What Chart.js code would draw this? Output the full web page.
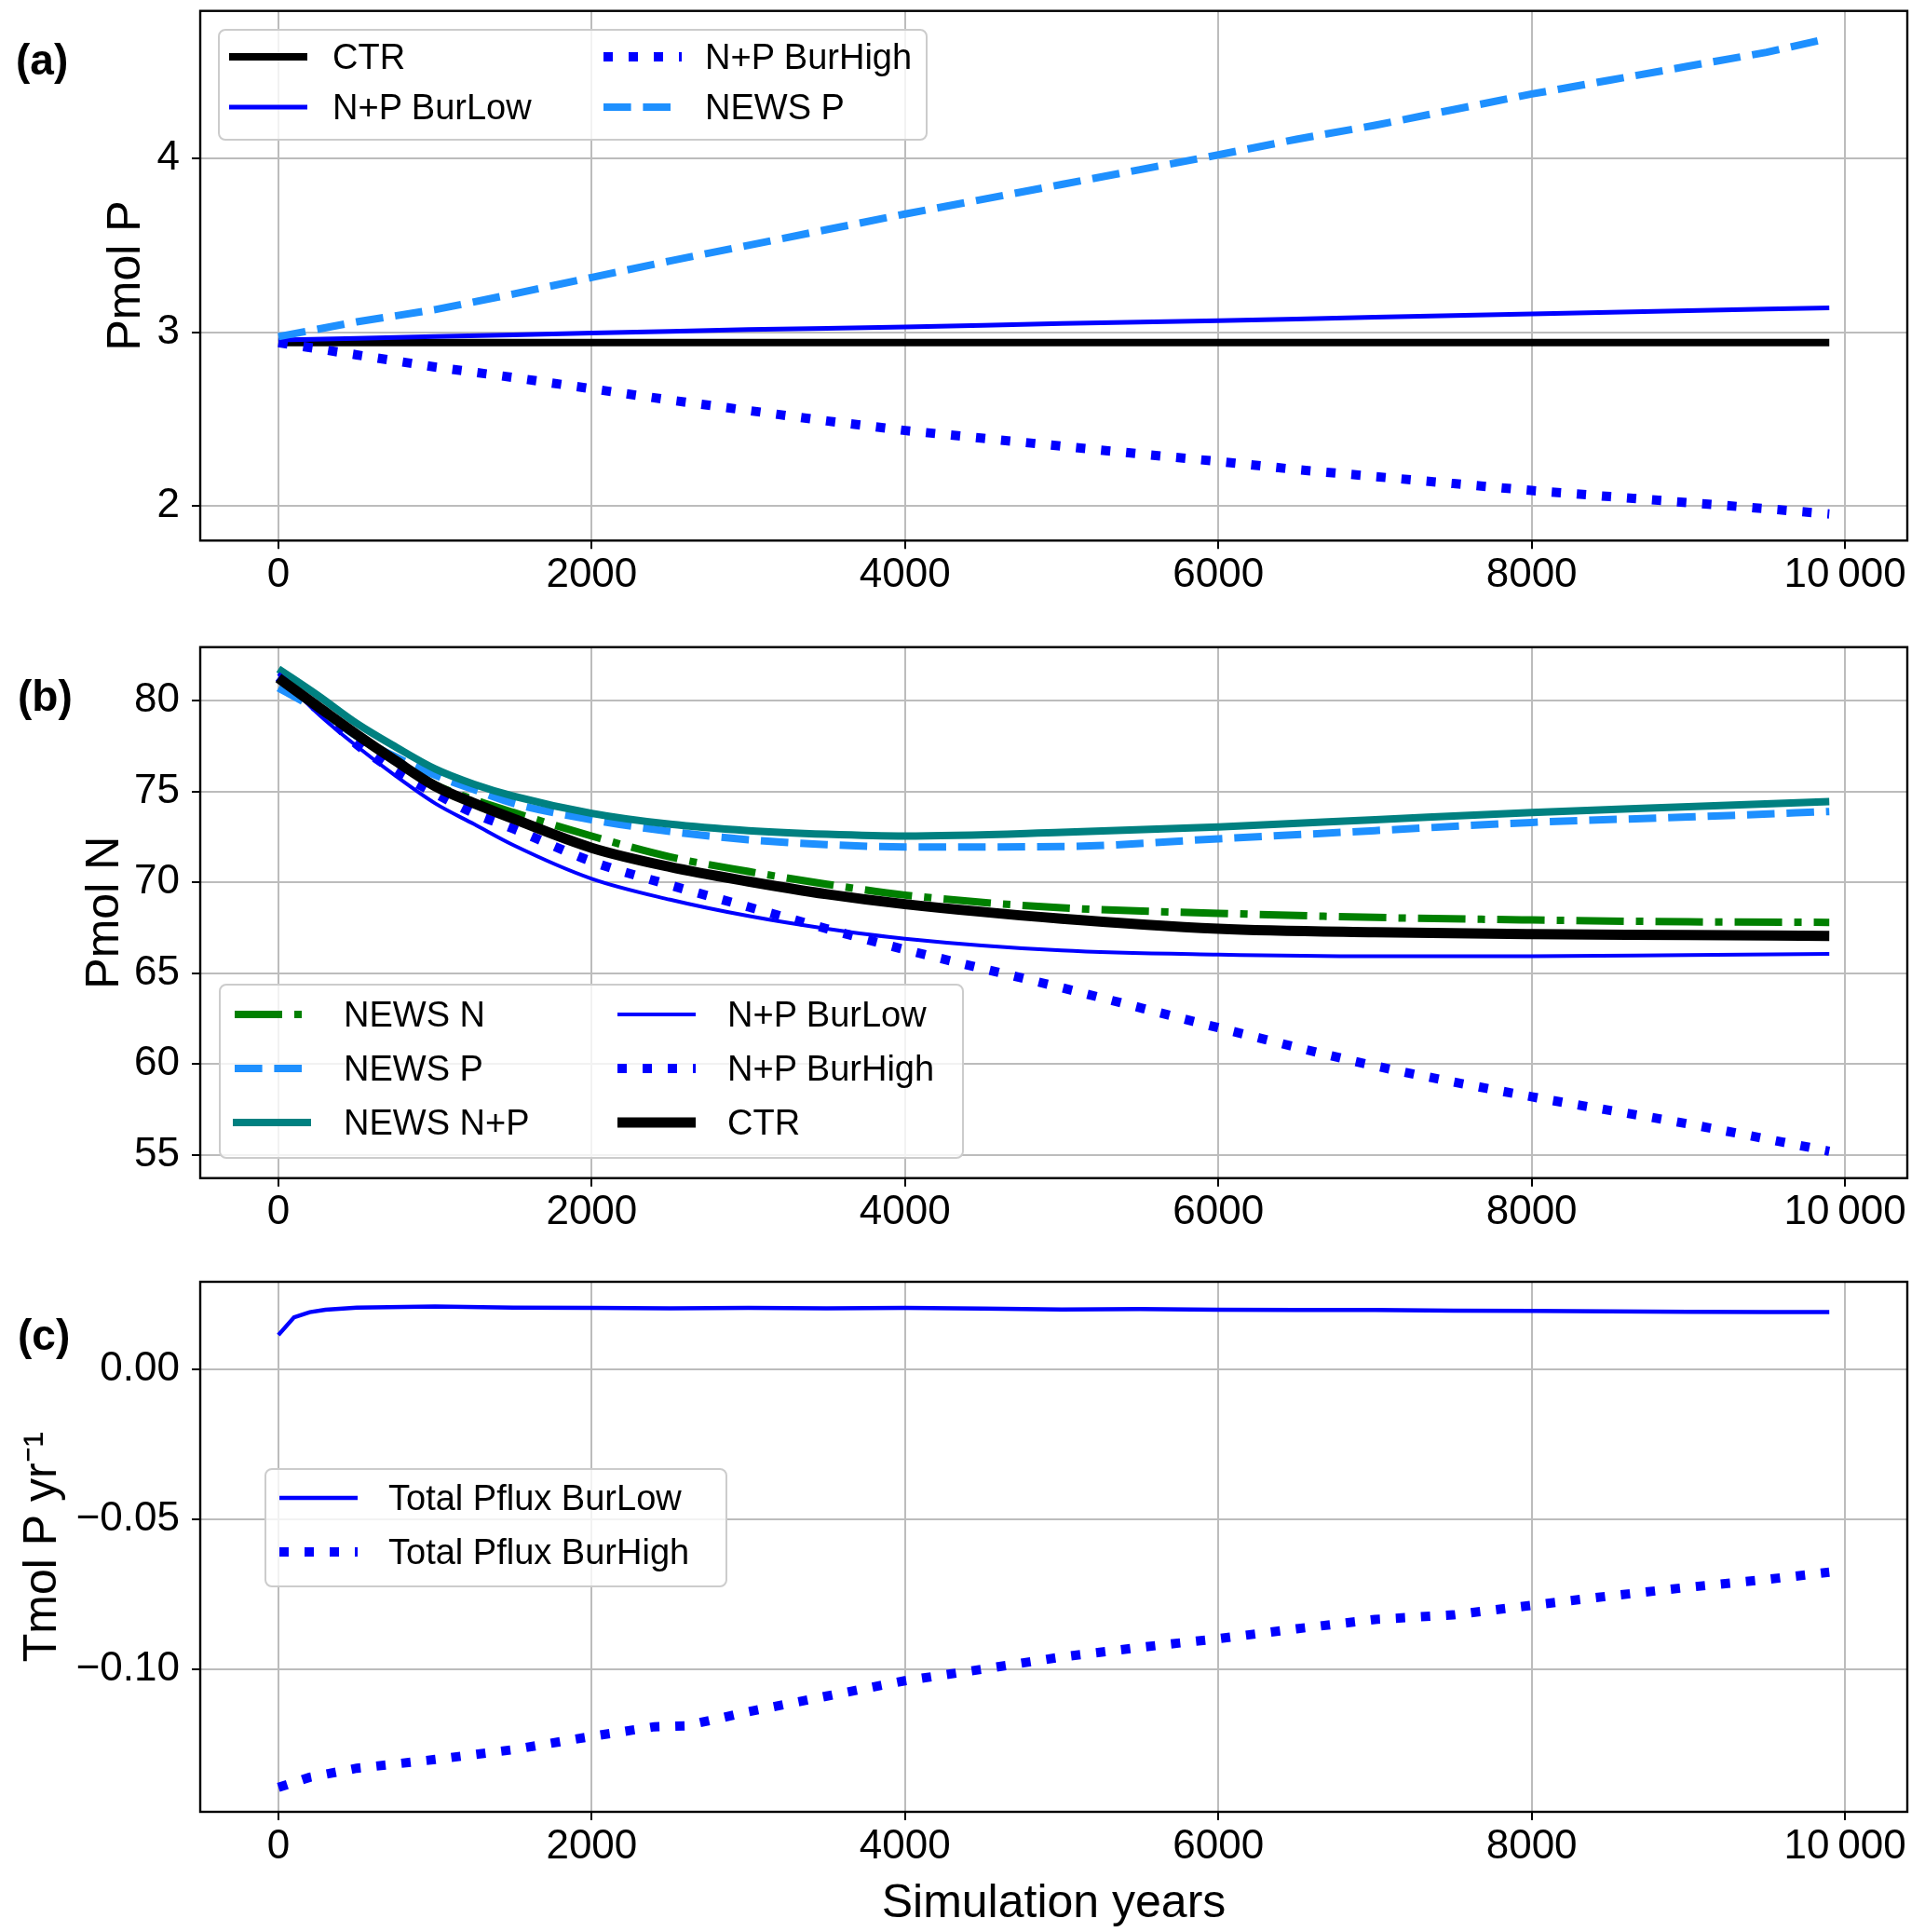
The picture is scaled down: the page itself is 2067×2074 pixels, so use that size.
<!DOCTYPE html>
<html>
<head>
<meta charset="utf-8">
<script src="https://cdn.jsdelivr.net/npm/chart.js@4.4.0/dist/chart.umd.min.js"></script>
<style>
  html, body { margin: 0; padding: 0; background: #fff; }
  body { width: 2067px; height: 2074px; position: relative; overflow: hidden;
         font-family: "Liberation Sans", Arial, sans-serif; color: #000; }
  canvas { position: absolute; left: 0; }
  .lab { position: absolute; font-weight: bold; font-size: 46px; line-height: 46px; }
  .legend { position: absolute; background: rgba(255,255,255,0.8); border: 2px solid #cccccc;
            border-radius: 8px; box-sizing: border-box; }
  .txt { position: absolute; font-size: 38px; line-height: 38px; white-space: nowrap; transform: translateY(-50%); }
  .hd { position: absolute; overflow: visible; }
</style>
</head>
<body>
<canvas id="ca" width="2067" height="680" style="top:0px"></canvas>
<canvas id="cb" width="2067" height="685" style="top:680px"></canvas>
<canvas id="cc" width="2067" height="709" style="top:1365px"></canvas>
<div class="lab" style="left:17px;top:41px">(a)</div>
<div class="lab" style="left:19px;top:724px">(b)</div>
<div class="lab" style="left:19px;top:1410px">(c)</div>
<div id="legA" class="legend" style="left:234px;top:31px;width:762px;height:120px"></div>
<div id="legB" class="legend" style="left:235px;top:1056px;width:800px;height:188px"></div>
<div id="legC" class="legend" style="left:284px;top:1576px;width:497px;height:128px"></div>
<script>
// x axis (shared)
const xTicks = [0, 2000, 4000, 6000, 8000, 10000];
const xTickLabels = ['0', '2000', '4000', '6000', '8000', '10\u2009000'];

// (a) Pmol P
const yearsA = [0, 500, 1000, 1500, 2000, 2500, 3000, 3500, 4000, 4500, 5000, 5500, 6000, 6500, 7000, 7500, 8000, 8500, 9000, 9500, 9900];
const ctrP = [2.94, 2.94, 2.94, 2.94, 2.94, 2.94, 2.94, 2.94, 2.94, 2.94, 2.94, 2.94, 2.94, 2.94, 2.94, 2.94, 2.94, 2.94, 2.94, 2.94, 2.94];
const burLowP = [2.955, 2.965, 2.975, 2.985, 2.995, 3.005, 3.015, 3.022, 3.03, 3.04, 3.05, 3.058, 3.066, 3.076, 3.086, 3.096, 3.105, 3.115, 3.124, 3.133, 3.14];
const burHighP = [2.94, 2.87, 2.8, 2.74, 2.675, 2.61, 2.55, 2.49, 2.435, 2.39, 2.345, 2.3, 2.257, 2.21, 2.17, 2.13, 2.09, 2.055, 2.02, 1.985, 1.955];
const newsPP = [2.975, 3.06, 3.13, 3.22, 3.315, 3.41, 3.5, 3.59, 3.68, 3.765, 3.85, 3.935, 4.02, 4.11, 4.19, 4.28, 4.37, 4.45, 4.53, 4.61, 4.69];
const yTicksA = [2, 3, 4];
const yTickLabelsA = ['2', '3', '4'];

// (b) Pmol N
const yearsB = [0, 250, 500, 750, 1000, 1250, 1500, 2000, 2500, 3000, 3500, 4000, 5000, 6000, 7000, 8000, 9000, 9900];
const newsNN = [81.25, 79.7, 78.15, 76.7, 75.38, 74.55, 73.85, 72.55, 71.4, 70.6, 69.9, 69.3, 68.6, 68.3, 68.07, 67.93, 67.83, 67.8];
const newsPN = [80.7, 79.5, 78.05, 76.9, 75.9, 75.1, 74.35, 73.45, 72.8, 72.35, 72.08, 71.95, 71.97, 72.4, 72.85, 73.3, 73.6, 73.9];
const newsNPN = [81.75, 80.3, 78.75, 77.45, 76.25, 75.4, 74.75, 73.8, 73.2, 72.85, 72.65, 72.55, 72.75, 73.05, 73.45, 73.85, 74.17, 74.45];
const burLowN = [81.5, 79.3, 77.5, 75.85, 74.35, 73.2, 72.05, 70.2, 69.05, 68.15, 67.45, 66.9, 66.25, 66.02, 65.93, 65.93, 66.0, 66.06];
const burHighN = [81.3, 79.6, 77.6, 76.1, 74.9, 73.8, 72.95, 71.15, 69.85, 68.65, 67.45, 66.3, 64.2, 62.0, 59.9, 58.2, 56.7, 55.2];
const ctrN = [81.25, 79.69, 78.14, 76.68, 75.3, 74.35, 73.5, 71.9, 70.85, 70.05, 69.35, 68.8, 68.0, 67.45, 67.25, 67.15, 67.1, 67.05];
const yTicksB = [55, 60, 65, 70, 75, 80];
const yTickLabelsB = ['55', '60', '65', '70', '75', '80'];

// (c) Tmol P yr-1
const yearsCL = [0, 100, 200, 300, 500, 1000, 1500, 2000, 2500, 3000, 3500, 4000, 4500, 5000, 5500, 6000, 6500, 7000, 7500, 8000, 8500, 9000, 9500, 9900];
const fluxLow = [0.0113, 0.0172, 0.0189, 0.0197, 0.0204, 0.0208, 0.0204, 0.0203, 0.0202, 0.0203, 0.0202, 0.0203, 0.0201, 0.0198, 0.0199, 0.0197, 0.0196, 0.0196, 0.0194, 0.0193, 0.0192, 0.019, 0.0189, 0.0189];
const yearsCH = [0, 200, 500, 1000, 1500, 2000, 2400, 2600, 3000, 3500, 4000, 4500, 5000, 5500, 6000, 6500, 7000, 7500, 8000, 8500, 9000, 9500, 9900];
const fluxHigh = [-0.1392, -0.1358, -0.1328, -0.1299, -0.1266, -0.1222, -0.119, -0.1187, -0.114, -0.1088, -0.1037, -0.0998, -0.0958, -0.0926, -0.0897, -0.0864, -0.0833, -0.0818, -0.0786, -0.0755, -0.0726, -0.07, -0.0676];
const yTicksC = [-0.1, -0.05, 0];
const yTickLabelsC = ['\u22120.10', '\u22120.05', '0.00'];

Chart.defaults.font.family = '"Liberation Sans", Arial, sans-serif';
Chart.defaults.color = '#000';

const BLUE = '#0000ff', DODGER = '#1e90ff', TEAL = '#008080', GREEN = '#008000', BLACK = '#000000';
const DOT = [10, 17], DASH = [29.6, 12.8], DASHDOT = [51, 13, 8, 13];

// the four spines
const frame = {
  id: 'frame',
  afterDraw(chart) {
    const { ctx, chartArea: a } = chart;
    ctx.save();
    ctx.strokeStyle = '#000';
    ctx.lineWidth = 2.4;
    ctx.strokeRect(a.left, a.top, a.right - a.left, a.bottom - a.top);
    ctx.restore();
  }
};

function line(label, xs, ys, color, width, dash, smooth) {
  return {
    label,
    data: xs.map((x, i) => ({ x, y: ys[i] })),
    borderColor: color,
    borderWidth: width,
    borderDash: dash || [],
    borderCapStyle: 'butt',
    pointRadius: 0,
    fill: false,
    cubicInterpolationMode: smooth ? 'monotone' : 'default',
    tension: 0
  };
}

function panel(id, datasets, c) {
  return new Chart(document.getElementById(id), {
    type: 'line',
    data: { datasets },
    plugins: [frame],
    options: {
      responsive: false,
      animation: false,
      devicePixelRatio: 1,
      layout: { padding: { top: c.top, right: 19, left: 0, bottom: 0 } },
      plugins: { legend: { display: false }, tooltip: { enabled: false } },
      scales: {
        x: {
          type: 'linear', min: -499, max: 10398,
          afterBuildTicks: s => { s.ticks = xTicks.map(v => ({ value: v })); },
          afterFit: s => { s.height = c.xh; s.paddingLeft = 0; s.paddingRight = 0; },
          ticks: { font: { size: 44 }, padding: 2, maxRotation: 0, autoSkip: false,
                   callback: (v, i) => xTickLabels[i] },
          grid: { color: '#bcbcbc', lineWidth: 2, tickColor: '#000', tickLength: 9, tickWidth: 2 },
          border: { display: false },
          title: c.xTitle ? { display: true, text: c.xTitle, font: { size: 50 }, padding: { top: 0, bottom: 0 } }
                          : { display: false }
        },
        y: {
          type: 'linear', min: c.yMin, max: c.yMax,
          afterBuildTicks: s => { s.ticks = c.yTicks.map(v => ({ value: v })); },
          afterFit: s => { s.width = 215; s.paddingTop = 0; s.paddingBottom = 0; },
          ticks: { font: { size: 44 }, padding: 13, callback: (v, i) => c.yLabels[i] },
          grid: { color: '#bcbcbc', lineWidth: 2, tickColor: '#000', tickLength: 9, tickWidth: 2 },
          border: { display: false },
          title: { display: true, text: c.yTitle, font: { size: 50 }, padding: { top: c.tpad, bottom: 0 } }
        }
      }
    }
  });
}

// index 0 is drawn on top
const dsA = [
  line('NEWS P', yearsA, newsPP, DODGER, 8, DASH),
  line('N+P BurHigh', yearsA, burHighP, BLUE, 10, DOT),
  line('N+P BurLow', yearsA, burLowP, BLUE, 5),
  line('CTR', yearsA, ctrP, BLACK, 8)
];
panel('ca', dsA, { top: 11.7, xh: 99.7, yMin: 1.802, yMax: 4.848, yTicks: yTicksA, yLabels: yTickLabelsA, yTitle: 'Pmol P', tpad: 106 });

const dsB = [
  line('CTR', yearsB, ctrN, BLACK, 11, null, true),
  line('N+P BurHigh', yearsB, burHighN, BLUE, 10, DOT, true),
  line('N+P BurLow', yearsB, burLowN, BLUE, 4, null, true),
  line('NEWS N+P', yearsB, newsNPN, TEAL, 8, null, true),
  line('NEWS P', yearsB, newsPN, DODGER, 8, DASH, true),
  line('NEWS N', yearsB, newsNN, GREEN, 8, DASHDOT, true)
];
panel('cb', dsB, { top: 14.7, xh: 100.3, yMin: 53.72, yMax: 82.95, yTicks: yTicksB, yLabels: yTickLabelsB, yTitle: 'Pmol N', tpad: 83 });

const dsC = [
  line('Total Pflux BurHigh', yearsCH, fluxHigh, BLUE, 10, DOT),
  line('Total Pflux BurLow', yearsCL, fluxLow, BLUE, 4.5)
];
panel('cc', dsC, { top: 11, xh: 129, yMin: -0.1473, yMax: 0.029, yTicks: yTicksC, yLabels: yTickLabelsC,
                   yTitle: 'Tmol P yr\u207B\u00B9', tpad: 16, xTitle: 'Simulation years' });

// legends: [label, handle x, row y, text x] relative to box
function legend(boxId, ds, items) {
  const box = document.getElementById(boxId);
  items.forEach(([label, hx, ty, tx]) => {
    const d = ds.find(s => s.label === label);
    const svg = document.createElementNS('http://www.w3.org/2000/svg', 'svg');
    svg.setAttribute('class', 'hd');
    svg.setAttribute('width', '86');
    svg.setAttribute('height', '20');
    svg.style.left = hx + 'px';
    svg.style.top = (ty - 10) + 'px';
    const l = document.createElementNS('http://www.w3.org/2000/svg', 'line');
    l.setAttribute('x1', '0'); l.setAttribute('x2', '84');
    l.setAttribute('y1', '10'); l.setAttribute('y2', '10');
    l.setAttribute('stroke', d.borderColor);
    l.setAttribute('stroke-width', d.borderWidth);
    if (d.borderDash.length) l.setAttribute('stroke-dasharray', d.borderDash.join(' '));
    svg.appendChild(l);
    box.appendChild(svg);
    const t = document.createElement('div');
    t.className = 'txt';
    t.textContent = label;
    t.style.left = tx + 'px';
    t.style.top = ty + 'px';
    box.appendChild(t);
  });
}
legend('legA', dsA, [
  ['CTR', 10, 28, 121], ['N+P BurLow', 10, 82, 121],
  ['N+P BurHigh', 412, 28, 521], ['NEWS P', 412, 82, 521]
]);
legend('legB', dsB, [
  ['NEWS N', 15, 31, 132], ['NEWS P', 15, 89, 132], ['NEWS N+P', 13, 147, 132],
  ['N+P BurLow', 426, 31, 544], ['N+P BurHigh', 426, 89, 544], ['CTR', 426, 147, 544]
]);
legend('legC', dsC, [
  ['Total Pflux BurLow', 14, 30, 131], ['Total Pflux BurHigh', 14, 88, 131]
]);
</script>
</body>
</html>
